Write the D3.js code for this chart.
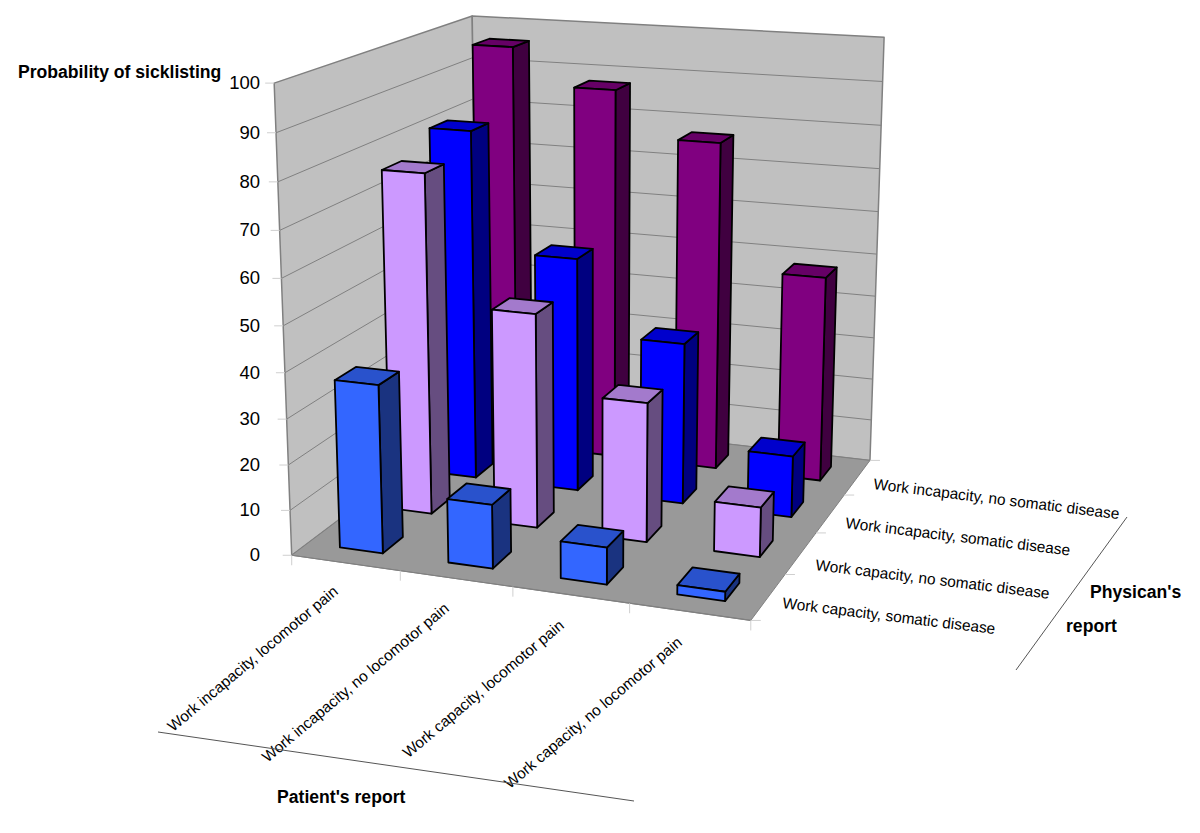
<!DOCTYPE html>
<html><head><meta charset="utf-8">
<style>html,body{margin:0;padding:0;background:#fff}svg{display:block}text{font-family:"Liberation Sans",Arial,sans-serif;fill:#000}</style>
<script src="https://cdn.jsdelivr.net/npm/d3@7"></script>
</head><body><svg id="c" width="1200" height="833"></svg>
<script>
const patientCategories = ["Work incapacity, locomotor pain","Work incapacity, no locomotor pain","Work capacity, locomotor pain","Work capacity, no locomotor pain"];
const physicianCategories = ["Work capacity, somatic disease","Work capacity, no somatic disease","Work incapacity, somatic disease","Work incapacity, no somatic disease"];
const rowCapacitySomatic = [37,14,8,2];
const rowCapacityNoSomatic = [76.5,48,31,11];
const rowIncapacitySomatic = [81,54,37,14];
const rowIncapacityNoSomatic = [96,87.5,77,48];
const seriesValues = [rowCapacitySomatic,rowCapacityNoSomatic,rowIncapacitySomatic,rowIncapacityNoSomatic];
const seriesColors = ["#3366ff","#cc99ff","#0000ff","#800080"];
const valueTicks = [0,10,20,30,40,50,60,70,80,90,100];

// camera calibration: cube coordinates (u,v,h) -> pixels
const calib = [[0,0,0,292,556],[0,0,1,274,83],[1,0,0,751,620],[1,1,0,870,460],[1,1,1,884,37],[0,1,1,472,16],
 [0,0,.5,283,325],[0,0,.9,276,133],[0,0,.8,278,182],[0,0,.3,287,419],[0,0,.2,288.5,465],[0,0,.1,290,510],
 [1,1,.9,883,82],[.25,0,0,400,571],[.5,0,0,513,587],[.75,0,0,629,603],[1,.25,0,785,575],[1,.5,0,816,533],[1,.75,0,844,495]];
function solve(A,b){const n=b.length;const M=A.map((r,i)=>[...r,b[i]]);
 for(let c=0;c<n;c++){let p=c;for(let r=c+1;r<n;r++)if(Math.abs(M[r][c])>Math.abs(M[p][c]))p=r;[M[c],M[p]]=[M[p],M[c]];
  for(let r=0;r<n;r++){if(r===c)continue;const f=M[r][c]/M[c][c];for(let k=c;k<=n;k++)M[r][k]-=f*M[c][k];}}
 return M.map((r,i)=>r[n]/r[i]);}
const rows=[],rhs=[];
calib.forEach(([u,v,h,x,y])=>{x/=1000;y/=1000;
 rows.push([u,v,h,1,0,0,0,0,-x*u,-x*v,-x*h]);rhs.push(x);
 rows.push([0,0,0,0,u,v,h,1,-y*u,-y*v,-y*h]);rhs.push(y);});
const N=Array.from({length:11},(_,i)=>Array.from({length:11},(_,j)=>d3.sum(rows,r=>r[i]*r[j])));
const R=Array.from({length:11},(_,i)=>d3.sum(rows,(r,k)=>r[i]*rhs[k]));
const P=solve(N,R);
function project(u,v,h){const w=P[8]*u+P[9]*v+P[10]*h+1;
 return [1000*(P[0]*u+P[1]*v+P[2]*h+P[3])/w,1000*(P[4]*u+P[5]*v+P[6]*h+P[7])/w];}

const uScale=d3.scaleBand().domain(patientCategories).range([0,1]).paddingInner(.6).paddingOuter(.3);
const vScale=d3.scaleBand().domain(physicianCategories).range([0,1]).paddingInner(.6).paddingOuter(.3);
const hScale=d3.scaleLinear().domain([0,100]).range([0,1]);
const uEdge=d3.scaleLinear().domain([0,patientCategories.length]).range([0,1]);
const vEdge=d3.scaleLinear().domain([0,physicianCategories.length]).range([0,1]);

const svg=d3.select("#c");
const line=d3.line();
const poly=(pts,fill,stroke,sw)=>svg.append("path").attr("d",line(pts.map(p=>project(...p)))+"Z")
 .attr("fill",fill).attr("stroke",stroke).attr("stroke-width",sw).attr("stroke-linejoin","round");
const seg=(a,b,stroke,sw)=>svg.append("line").attr("x1",a[0]).attr("y1",a[1]).attr("x2",b[0]).attr("y2",b[1]).attr("stroke",stroke).attr("stroke-width",sw);

// walls and floor
poly([[0,0,0],[0,0,1],[0,1,1],[0,1,0]],"#c0c0c0","#808080",1.5);
poly([[0,1,0],[0,1,1],[1,1,1],[1,1,0]],"#c0c0c0","#808080",1.5);
valueTicks.slice(1,-1).forEach(t=>{const h=hScale(t);
 svg.append("path").attr("d",line([project(0,0,h),project(0,1,h),project(1,1,h)])).attr("fill","none").attr("stroke","#808080").attr("stroke-width",1);});
poly([[0,0,0],[1,0,0],[1,1,0],[0,1,0]],"#999999","#808080",1);
seg(project(0,0,0),project(1,0,0),"#808080",1.2);

// ticks
valueTicks.forEach(t=>{const p=project(0,0,hScale(t));seg([p[0]-9,p[1]],p,"#cfcfcf",1);
 svg.append("text").attr("x",260).attr("y",p[1]+6).attr("text-anchor","end").attr("font-size",18.5).text(t);});
d3.range(patientCategories.length+1).forEach(i=>{const p=project(uEdge(i),0,0);seg(p,[p[0],p[1]+10],"#cfcfcf",1);});
d3.range(physicianCategories.length+1).forEach(i=>{const p=project(1,vEdge(i),0);seg(p,[p[0]+10,p[1]],"#cfcfcf",1);});

// bars, back row first
d3.range(physicianCategories.length).reverse().forEach(r=>{
 const v0=vScale(physicianCategories[r]),v1=v0+vScale.bandwidth();
 const base=d3.color(seriesColors[r]);
 const k=c=>d3.rgb(base.r*c,base.g*c,base.b*c).formatHex();
 seriesValues[r].forEach((val,c)=>{
  const u0=uScale(patientCategories[c]),u1=u0+uScale.bandwidth(),h=hScale(val);
  poly([[u1,v0,0],[u1,v1,0],[u1,v1,h],[u1,v0,h]],k(.5),"#000",1.8);
  poly([[u0,v0,h],[u1,v0,h],[u1,v1,h],[u0,v1,h]],k(.8),"#000",1.8);
  poly([[u0,v0,0],[u1,v0,0],[u1,v0,h],[u0,v0,h]],k(1),"#000",1.8);
 });
});

// category labels
const bottomLabelEnds=[[339,593],[450,610],[565,627],[683,644]];
patientCategories.forEach((t,i)=>{const e=bottomLabelEnds[i];
 svg.append("text").attr("transform",`translate(${e[0]},${e[1]}) rotate(-40)`).attr("text-anchor","end").attr("font-size",15.4).text(t);});
const rightLabelStarts=[[782,608],[815,570],[845,528],[873,489]];
physicianCategories.forEach((t,i)=>{const s=rightLabelStarts[i];
 svg.append("text").attr("transform",`translate(${s[0]},${s[1]}) rotate(7)`).attr("font-size",15.4).text(t);});

// axis titles and rules
const bold=(t,x,y,fs)=>svg.append("text").attr("x",x).attr("y",y).attr("font-weight","bold").attr("font-size",fs).text(t);
bold("Probability of sicklisting",18,78,17.6);
bold("Patient's report",277,803,17.6);
bold("Physican's",1090,598,17.6);
bold("report",1066,632,17.6);
seg([158,732],[634,801],"#555",1);
seg([1127,517],[1016,670],"#555",1);
</script></body></html>
